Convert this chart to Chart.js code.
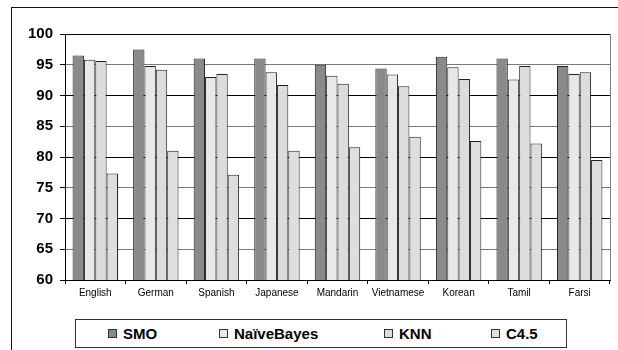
<!DOCTYPE html>
<html>
<head>
<meta charset="utf-8">
<title>Classifier accuracy by language</title>
<script src="https://cdn.jsdelivr.net/npm/chart.js@4"></script>
<style>
    html, body { margin: 0; padding: 0; background: #fff; overflow: hidden; }
    body { width: 618px; height: 350px; position: relative; font-family: 'Liberation Sans', Arial, sans-serif; }
    #frame {
        position: absolute; left: 11px; top: 7px; width: 640px; height: 380px;
        border-left: 1px solid #111; border-top: 1px solid #111;
        pointer-events: none;
    }
    #chartBox { position: absolute; left: 0; top: 0; width: 618px; height: 350px; }
    #legend {
        position: absolute; left: 75px; top: 319px; width: 490px; height: 27px;
        border: 1px solid #333; background: #fff;
        display: flex; align-items: center; box-sizing: content-box;
        padding-left: 0;
    }
    .item { display: flex; align-items: center; position: absolute; top: 5px; }
    .swatch { width: 7px; height: 7px; border: 1px solid #333; margin-right: 6px; }
    .label { font: bold 15px 'Liberation Sans', Arial, sans-serif; color: #000; line-height: 17px; }
</style>
</head>
<body>
<div id="chartBox"><canvas id="accuracyChart" width="618" height="350"></canvas></div>
<div id="frame"></div>
<div id="legend"></div>
<script>
// ============================================================================
// CLASSIFIER ACCURACY PER LANGUAGE (SMO / NaiveBayes / KNN / C4.5)
// ============================================================================

const languages = ['English', 'German', 'Spanish', 'Japanese', 'Mandarin', 'Vietnamese', 'Korean', 'Tamil', 'Farsi'];
const seriesNames = ['SMO', 'NaïveBayes', 'KNN', 'C4.5'];
const smoValues = [96.5, 97.5, 96.0, 96.0, 95.0, 94.4, 96.3, 96.0, 94.8];
const naiveBayesValues = [95.8, 94.8, 93.0, 93.8, 93.2, 93.4, 94.6, 92.6, 93.5];
const knnValues = [95.6, 94.2, 93.5, 91.7, 91.9, 91.5, 92.7, 94.8, 93.8];
const c45Values = [77.3, 81.0, 77.1, 81.0, 81.6, 83.3, 82.6, 82.2, 79.5];
const yTicks = [60, 65, 70, 75, 80, 85, 90, 95, 100];

const seriesColors = ['#8a8a8a', '#e8e8e8', '#dcdcdc', '#dedede'];
const seriesValues = [smoValues, naiveBayesValues, knnValues, c45Values];

// right edge of the plot frame (top edge is the 100 grid line)
const plotFrame = {
    id: 'plotFrame',
    beforeDatasetsDraw(chart) {
        const { ctx, chartArea } = chart;
        ctx.save();
        ctx.strokeStyle = '#808080';
        ctx.lineWidth = 1;
        ctx.beginPath();
        ctx.moveTo(Math.round(chartArea.right) + 0.5, chartArea.top);
        ctx.lineTo(Math.round(chartArea.right) + 0.5, chartArea.bottom);
        ctx.stroke();
        ctx.restore();
    }
};

function renderAccuracyChart(canvasId) {
    const ctx = document.getElementById(canvasId)?.getContext('2d');
    if (!ctx) {
        console.warn(`Canvas with id '${canvasId}' not found`);
        return null;
    }

    const chartData = {
        labels: languages,
        datasets: seriesNames.map((name, i) => ({
            label: name,
            data: seriesValues[i],
            backgroundColor: seriesColors[i],
            borderColor: '#222',
            borderWidth: 1,
            categoryPercentage: 0.75,
            barPercentage: 1.0
        }))
    };

    const options = {
        responsive: false,
        animation: false,
        layout: {
            padding: { left: 0, right: 8, top: 34, bottom: 40 }
        },
        plugins: {
            legend: { display: false },
            tooltip: { enabled: false }
        },
        scales: {
            x: {
                afterFit: scale => { scale.height = 30; },
                grid: {
                    offset: true,
                    drawOnChartArea: false,
                    tickLength: 4,
                    color: '#000'
                },
                border: { color: '#000', width: 1 },
                ticks: {
                    color: '#000',
                    padding: 3,
                    font: { family: "'Liberation Sans', Arial, sans-serif", size: 10 }
                }
            },
            y: {
                min: 60,
                max: 100,
                afterFit: scale => { scale.width = 65; },
                afterBuildTicks: scale => { scale.ticks = yTicks.map(v => ({ value: v })); },
                grid: {
                    color: c => (c.tick && c.tick.value % 10 === 0) ? '#000' : '#7a7a7a',
                    tickColor: '#000',
                    tickLength: 5,
                    lineWidth: 1
                },
                border: { color: '#000', width: 1 },
                ticks: {
                    color: '#000',
                    padding: 7,
                    font: { family: "'Liberation Sans', Arial, sans-serif", size: 15, weight: 'bold' }
                }
            }
        }
    };

    const chart = new Chart(ctx, {
        type: 'bar',
        data: chartData,
        options: options,
        plugins: [plotFrame]
    });

    return chart;
}

function buildLegend(containerId) {
    const box = document.getElementById(containerId);
    const itemLeft = [32, 143, 308, 415];
    seriesNames.forEach((name, i) => {
        const item = document.createElement('div');
        item.className = 'item';
        item.style.left = itemLeft[i] + 'px';
        const swatch = document.createElement('span');
        swatch.className = 'swatch';
        swatch.style.background = seriesColors[i];
        const label = document.createElement('span');
        label.className = 'label';
        label.textContent = name;
        item.appendChild(swatch);
        item.appendChild(label);
        box.appendChild(item);
    });
}

renderAccuracyChart('accuracyChart');
buildLegend('legend');
</script>
</body>
</html>
